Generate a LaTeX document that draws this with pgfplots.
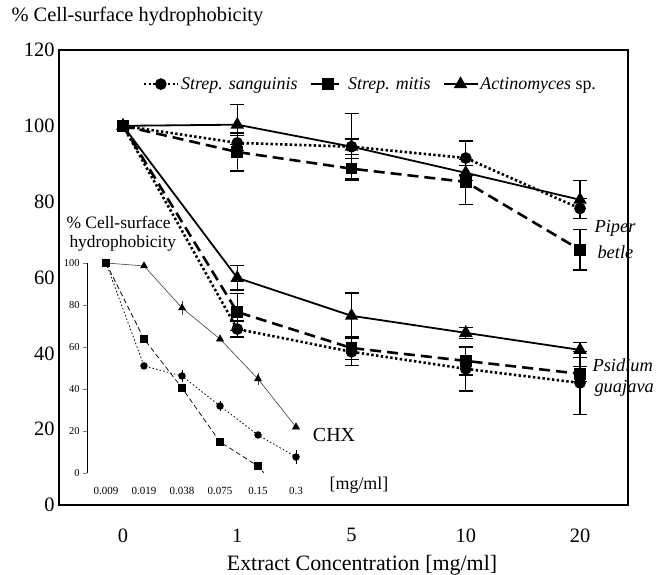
\documentclass[border=0pt]{standalone}
\usepackage{fontspec}
\setmainfont{Liberation Serif}
\usepackage{pgfplots}
\pgfplotsset{compat=1.18}
\newcommand{\fs}[1]{\fontsize{#1}{#1}\selectfont}
\begin{document}
\begin{tikzpicture}[x=1bp,y=1bp]
\path[use as bounding box] (0,0) rectangle (664,575);
\begin{axis}[
  at={(59bp,70bp)}, anchor=south west, scale only axis,
  width=569bp, height=455bp,
  xmin=-0.56, xmax=4.42, ymin=0, ymax=120,
  xtick={0,...,4}, xticklabels={0,1,5,10,20},
  ytick={0,20,...,120},
  major tick length=0pt,
  axis line style={line width=1.3bp},
  tick label style={font=\fs{20.5}},
  /pgf/number format/assume math mode=true,
  xticklabel style={yshift=-20bp},
  yticklabel style={xshift=-1bp},
  legend style={at={(0.547,0.925)}, anchor=center, draw=none, fill=none,
    legend columns=3, font=\fs{18}\itshape,
    /tikz/every even column/.append style={column sep=10bp}},
  legend image code/.code={\draw[mark repeat=2,mark phase=2,#1] plot coordinates {(0bp,0bp)(17bp,0bp)(34bp,0bp)};},
  error bars/y dir=both, error bars/y explicit,
  error bars/error bar style={line width=1.3bp, solid},
  error bars/error mark options={rotate=90, mark size=7bp, line width=1.3bp, solid},
  clip=false,
  sang/.style={black, line width=2.6bp, dash pattern=on 2.4bp off 2.4bp, mark=*, mark size=4.5bp, mark options={solid}},
  mit/.style={black, line width=2.6bp, dash pattern=on 11bp off 6bp, mark=square*, mark size=4.5bp, mark options={solid}},
  act/.style={black, line width=1.8bp, mark=triangle*, mark size=6bp, mark options={solid}},
]
% Piper betle
\addplot[sang] coordinates {(0,100) (1,95.5)+-(0,2) (2,94.5)+-(0,2) (3,91.5)+-(0,4.5) (4,78.2)+-(0,2.6)};
\addlegendentry{Strep. sanguinis}
\addplot[mit] coordinates {(0,100) (1,93.1)+-(0,5) (2,88.7)+-(0,2.7) (3,85.2)+-(0,6) (4,67.3)+-(0,5.3)};
\addlegendentry{Strep. mitis}
\addplot[act] coordinates {(0,100) (1,100.3)+-(0,5.3) (2,94.5)+-(0,8.8) (3,87.6)+-(0,2) (4,80.5)+-(0,5)};
\addlegendentry{Actinomyces \textup{sp.}}
% Psidium guajava
\addplot[sang, forget plot] coordinates {(0,100) (1,46.4)+-(0,2.1) (2,40.4)+-(0,3.7) (3,35.9)+-(0,5.8) (4,32.2)+-(0,8.3)};
\addplot[mit, forget plot] coordinates {(0,100) (1,50.9)+-(0,4.8) (2,41.4)+-(0,3) (3,38)+-(0,3.7) (4,34.6)+-(0,2)};
\addplot[act, forget plot] coordinates {(0,100) (1,59.9)+-(0,3.2) (2,49.9)+-(0,6) (3,45.4)+-(0,1.5) (4,40.9)+-(0,2)};
\end{axis}

\begin{axis}[
  at={(87bp,102bp)}, anchor=south west, scale only axis,
  width=228bp, height=210bp,
  xmin=-0.5, xmax=5.5, ymin=0, ymax=100,
  axis y line*=left, axis x line*=bottom,
  x axis line style={draw=none},
  y axis line style={line width=0.6bp},
  xtick={0,...,5}, xticklabels={0.009,0.019,0.038,0.075,0.15,0.3},
  ytick={0,20,...,100},
  tick align=outside,
  x tick style={draw=none},
  y tick style={line width=0.5bp},
  major tick length=4bp,
  extra x ticks={0.5,1.5,2.5,3.5,4.5,5.5}, extra x tick labels={},
  extra x tick style={tick style={draw=black!60, line width=0.5bp}, major tick length=2.5bp},
  xticklabel style={font=\fs{11}, yshift=-7bp},
  yticklabel style={font=\fs{10.5}},
  /pgf/number format/assume math mode=true,
  error bars/y dir=both, error bars/y explicit,
  error bars/error mark=none,
  error bars/error bar style={line width=0.6bp, solid},
  isq/.style={black, line width=0.7bp, dash pattern=on 5bp off 3bp, mark=square*, mark size=3.3bp, mark options={solid}},
  ici/.style={black, line width=0.8bp, dash pattern=on 1.5bp off 2.2bp, mark=*, mark size=3.3bp, mark options={solid}},
  itr/.style={black!75, line width=0.6bp, mark=triangle*, mark size=4bp, mark options={solid, fill=black, draw=black}},
]
\addplot[itr] coordinates {(0,100) (1,98.6) (2,78.6)+-(0,3.5) (3,63.8) (4,44.8)+-(0,3) (5,21.9)};
\addplot[ici] coordinates {(0,100) (1,51) (2,46.2)+-(0,3) (3,31.9)+-(0,2.5) (4,18.1) (5,7.6)+-(0,3.5)};
\addplot[isq] coordinates {(0,100) (1,63.8) (2,40.5) (3,14.8) (4,3.3) (5,-18)};
\end{axis}

\node[anchor=west, font=\fs{20.5}] at (8,558) {\% Cell-surface hydrophobicity};
\node[font=\fs{22}] at (362,10) {Extract Concentration [mg/ml]};
\node[anchor=west, font=\fs{17.5}] at (63,353) {\% Cell-surface};
\node[anchor=west, font=\fs{17.5}] at (66,332) {hydrophobicity};
\node[font=\fs{20}] at (334,140) {CHX};
\node[font=\fs{18}] at (359,90) {[mg/ml]};
\node[anchor=west, font=\fs{18.5}\itshape] at (591,347) {Piper};
\node[anchor=west, font=\fs{18.5}\itshape] at (594,323) {betle};
\node[anchor=west, font=\fs{18.5}\itshape] at (589,210) {Psidium};
\node[anchor=west, font=\fs{18.5}\itshape] at (591,187) {guajava};
\end{tikzpicture}
\end{document}
